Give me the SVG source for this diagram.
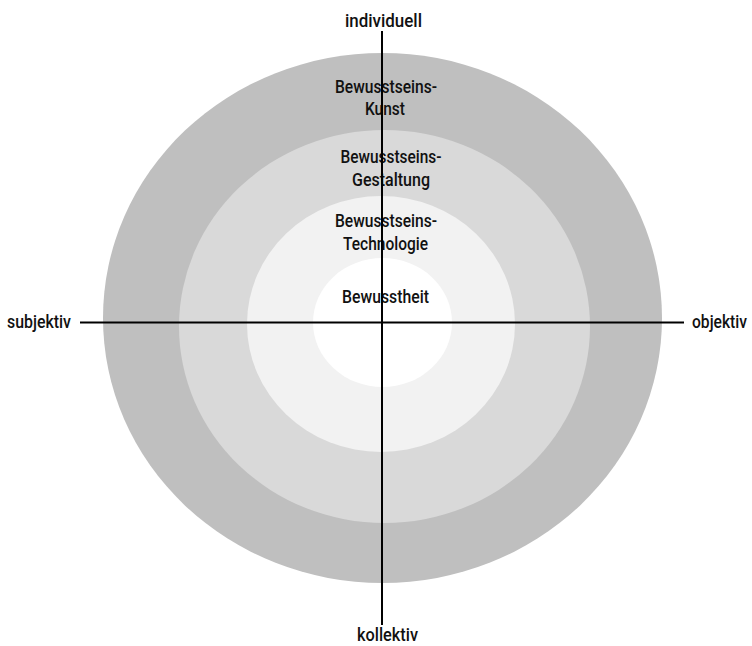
<svg xmlns="http://www.w3.org/2000/svg" width="752" height="646" viewBox="0 0 752 646">
<style>
text{font-family:Roboto,"Liberation Sans",sans-serif;font-weight:500;font-size:19px;fill:#111;text-anchor:middle}
.axis{stroke:#000;stroke-width:2;fill:none}
</style>
<rect width="752" height="646" fill="#fff"/>
<g id="ring-kunst">
<ellipse cx="382.5" cy="318" rx="279.5" ry="265" fill="#bfbfbf"/>
</g>
<g id="ring-gestaltung">
<ellipse cx="384.5" cy="326.5" rx="205.5" ry="196.5" fill="#d9d9d9"/>
</g>
<g id="ring-technologie">
<ellipse cx="381" cy="324" rx="134" ry="128" fill="#f2f2f2"/>
</g>
<g id="ring-bewusstheit">
<ellipse cx="382.5" cy="322.5" rx="69.5" ry="64.5" fill="#fff"/>
</g>
<g id="labels-rings">
<text x="386" y="93" textLength="102" lengthAdjust="spacingAndGlyphs">Bewusstseins-</text>
<text x="385" y="115" textLength="40" lengthAdjust="spacingAndGlyphs">Kunst</text>
<text x="391" y="163" textLength="101" lengthAdjust="spacingAndGlyphs">Bewusstseins-</text>
<text x="391" y="186" textLength="78" lengthAdjust="spacingAndGlyphs">Gestaltung</text>
<text x="386" y="227" textLength="102" lengthAdjust="spacingAndGlyphs">Bewusstseins-</text>
<text x="385.5" y="250" textLength="85" lengthAdjust="spacingAndGlyphs">Technologie</text>
<text x="385.5" y="303" textLength="87" lengthAdjust="spacingAndGlyphs">Bewusstheit</text>
</g>
<g id="connectors">
<line class="axis" x1="382" y1="31" x2="382" y2="625"/>
<line class="axis" x1="80" y1="322.5" x2="684" y2="322.5"/>
</g>
<g id="axis-individuell"><text x="383.5" y="27" textLength="77" lengthAdjust="spacingAndGlyphs">individuell</text></g>
<g id="axis-kollektiv"><text x="387.5" y="641" textLength="61" lengthAdjust="spacingAndGlyphs">kollektiv</text></g>
<g id="axis-subjektiv"><text x="39" y="328" textLength="64" lengthAdjust="spacingAndGlyphs">subjektiv</text></g>
<g id="axis-objektiv"><text x="747" y="328" style="text-anchor:end" textLength="55" lengthAdjust="spacingAndGlyphs">objektiv</text></g>
</svg>
